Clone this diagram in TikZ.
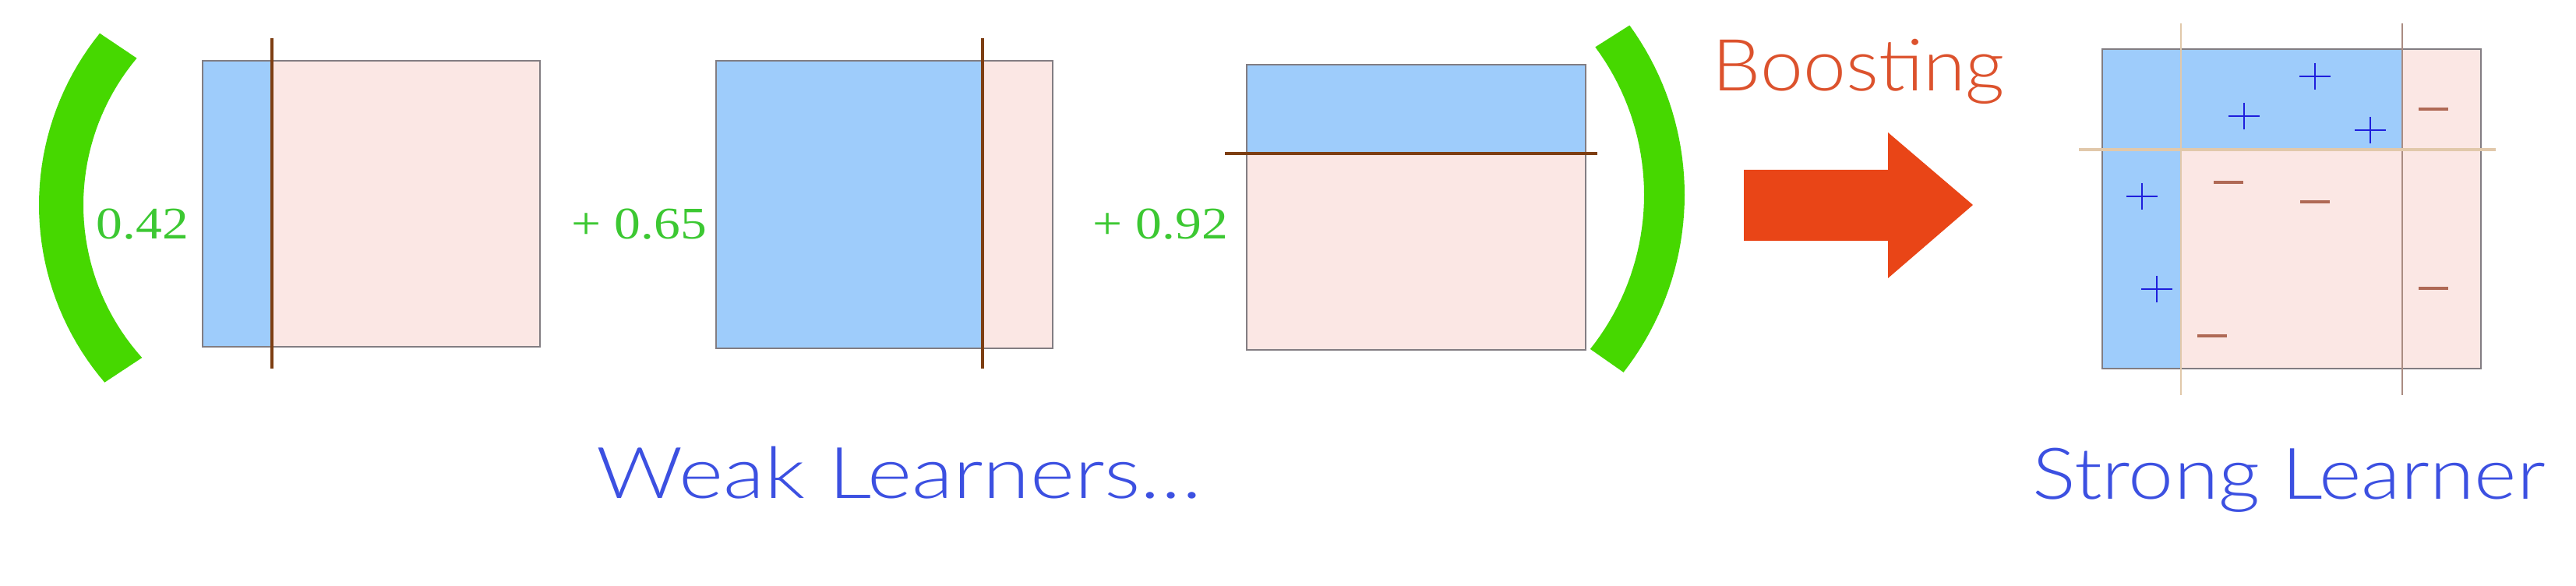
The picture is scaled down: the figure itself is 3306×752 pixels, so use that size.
\documentclass[tikz,border=0pt]{standalone}
\usepackage{fontspec}
\setmainfont{Liberation Serif}
\newfontfamily\gillfont{Lato Light}
\definecolor{blueF}{RGB}{158,204,251}
\definecolor{pinkF}{RGB}{251,231,228}
\definecolor{boxEdge}{RGB}{130,125,130}
\definecolor{cutLine}{RGB}{125,62,18}
\definecolor{parenG}{RGB}{70,216,0}
\definecolor{numG}{RGB}{60,200,50}
\definecolor{boostC}{RGB}{220,82,45}
\definecolor{arrowC}{RGB}{233,69,23}
\definecolor{textBlue}{RGB}{60,80,225}
\definecolor{plusC}{RGB}{30,30,220}
\definecolor{minusC}{RGB}{175,105,85}
\definecolor{lightCut}{RGB}{225,200,170}
\definecolor{midCut}{RGB}{170,140,130}
\begin{document}
\begin{tikzpicture}[x=0.01cm,y=-0.01cm,
  pinkbox/.style={fill=pinkF,draw=boxEdge,line width=0.6pt},
  bluepart/.style={fill=blueF},
  cut/.style={draw=cutLine,line width=1.1pt},
  paren/.style={fill=parenG},
  weight/.style={text=numG,font=\fontsize{16.5}{19}\selectfont,inner sep=0pt,anchor=base west},
  caption/.style={text=textBlue,font=\gillfont\fontsize{26}{30}\selectfont,inner sep=0pt,anchor=base west},
  plusmark/.style={draw=plusC,line width=0.8pt},
  minusmark/.style={draw=minusC,line width=1.1pt}]
\useasboundingbox (0,0) rectangle (3306,752);
% left parenthesis (arc band)
\path[paren] plot[domain=219:139.4,samples=40] ({400+350*cos(\x)},{263+350*sin(\x)})
  -- plot[domain=138:220,samples=40] ({400+293*cos(\x)},{263+293*sin(\x)}) -- cycle;
% right parenthesis (arc band)
\path[paren] plot[domain=-36:38,samples=40] ({1792+370*cos(\x)},{250+370*sin(\x)})
  -- plot[domain=38.5:-36.6,samples=40] ({1792+318*cos(\x)},{250+318*sin(\x)}) -- cycle;
% weak learner 1
\path[pinkbox] (260,78) rectangle (693,445);
\path[bluepart] (260,78) rectangle (349,445);
\draw[boxEdge,line width=0.6pt] (260,78) rectangle (693,445);
\coordinate (c1a) at (349,49); \coordinate (c1b) at (349,473);
\draw[cut] (c1a) -- (c1b);
% weak learner 2
\path[pinkbox] (919,78) rectangle (1351,447);
\path[bluepart] (919,78) rectangle (1261,447);
\draw[boxEdge,line width=0.6pt] (919,78) rectangle (1351,447);
\coordinate (c2a) at (1261,49); \coordinate (c2b) at (1261,473);
\draw[cut] (c2a) -- (c2b);
% weak learner 3
\path[pinkbox] (1600,83) rectangle (2035,449);
\path[bluepart] (1600,83) rectangle (2035,197);
\draw[boxEdge,line width=0.6pt] (1600,83) rectangle (2035,449);
\coordinate (c3a) at (1572,197); \coordinate (c3b) at (2050,197);
\draw[cut] (c3a) -- (c3b);
% weights
\node[weight] (w1) at (123,307) {\scalebox{1.165}[1]{0.42}};
\node[weight] (w2) at (733,307) {\scalebox{1.165}[1]{+ 0.65}};
\node[weight] (w3) at (1402,307) {\scalebox{1.165}[1]{+ 0.92}};
% boosting
\node[text=boostC,font=\gillfont\fontsize{26.2}{30}\selectfont,inner sep=0pt,anchor=base west] (boost) at (2197,117) {\scalebox{1.07}[1]{Boosting}};
\path[fill=arrowC] (2238,218) -- (2423,218) -- (2423,170) -- (2532,263) -- (2423,357) -- (2423,309) -- (2238,309) -- cycle;
% strong learner
\path[pinkbox] (2698,63) rectangle (3184,473);
\path[bluepart] (2698,63) rectangle (2799,473);
\path[bluepart] (2799,63) rectangle (3083,192);
\draw[boxEdge,line width=0.6pt] (2698,63) rectangle (3184,473);
\coordinate (s1a) at (2799,30); \coordinate (s1b) at (2799,507);
\coordinate (s2a) at (3083,30); \coordinate (s2b) at (3083,507);
\coordinate (s3a) at (2668,192); \coordinate (s3b) at (3203,192);
\draw[lightCut,line width=0.6pt] (s1a) -- (s1b);
\draw[midCut,line width=0.6pt] (s2a) -- (s2b);
\draw[lightCut,line width=0.9pt] (s3a) -- (s3b);
% plus signs
\foreach \px/\py in {2971/98, 2880/149, 3042/167, 2749/252, 2768/371}{
  \draw[plusmark] (\px-20,\py) -- (\px+20,\py) (\px,\py-17) -- (\px,\py+17);
}
% minus signs
\foreach \mx/\my in {3123/140, 2860/234, 2971/259, 3123/370, 2839/431}{
  \draw[minusmark] (\mx-19,\my) -- (\mx+19,\my);
}
% captions
\node[caption] (weak) at (765,639) {\scalebox{1.196}[1]{Weak Learners…}};
\node[caption] (strong) at (2608,640) {\scalebox{1.14}[1]{Strong Learner}};
\end{tikzpicture}
\end{document}
